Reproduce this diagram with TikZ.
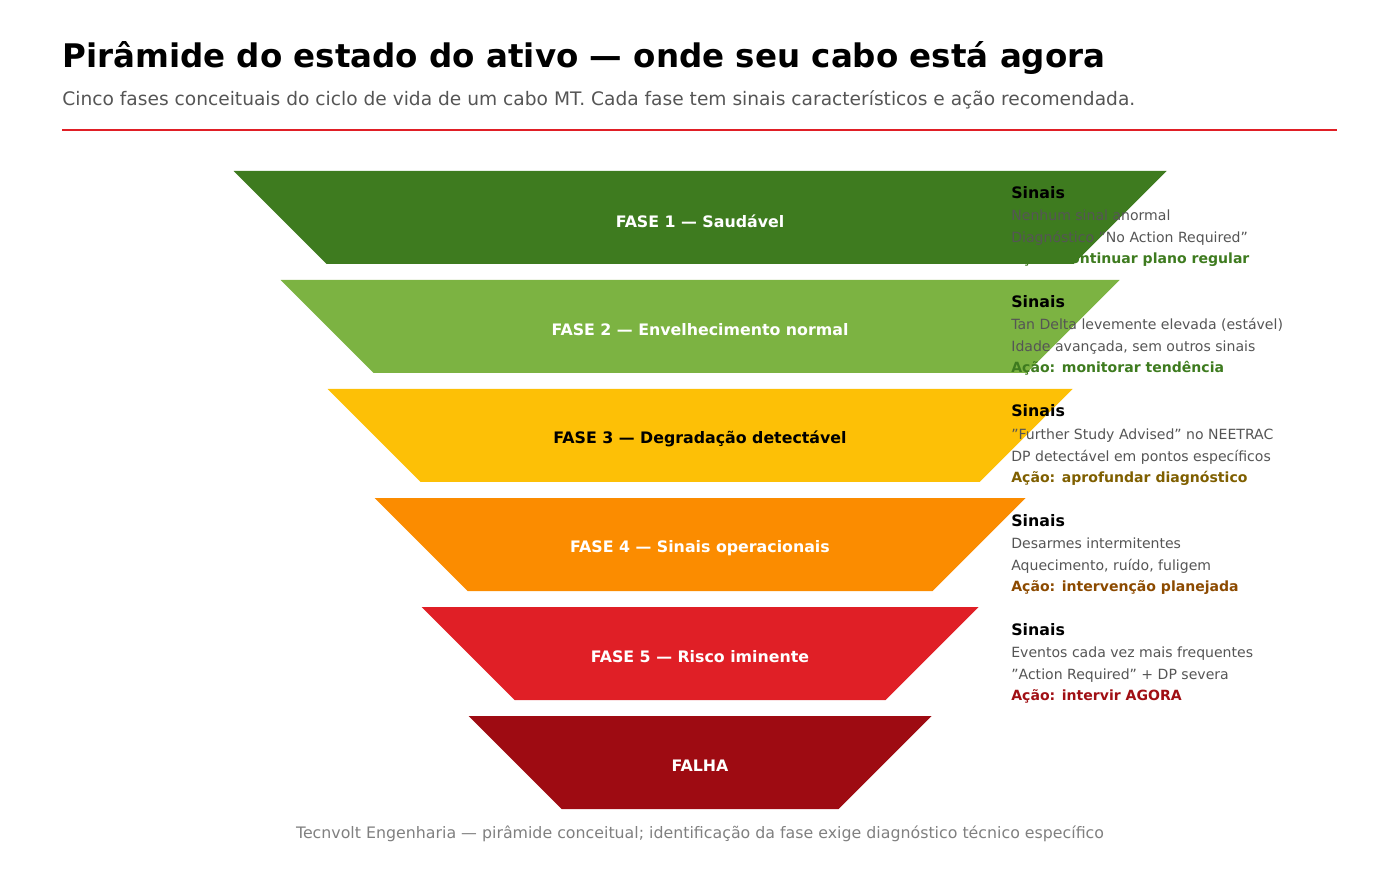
\documentclass[tikz,border=0pt]{standalone}
\usepackage{fontspec}
\setmainfont{DejaVu Sans}
\usetikzlibrary{positioning}
\definecolor{fase1}{HTML}{3E7B1F}
\definecolor{fase2}{HTML}{7CB342}
\definecolor{fase3}{HTML}{FDC006}
\definecolor{fase4}{HTML}{FB8C00}
\definecolor{fase5}{HTML}{E01F26}
\definecolor{falha}{HTML}{9E0B12}
\definecolor{acao3}{HTML}{7F5F00}
\definecolor{acao4}{HTML}{8C4A00}
\definecolor{acao5}{HTML}{A00F14}
\definecolor{texto}{HTML}{555555}
\begin{document}
\begin{tikzpicture}[x=0.02cm,y=-0.02cm,
  fase/.style={font=\fontsize{9}{11}\selectfont\bfseries},
  sinal/.style={anchor=base west,inner sep=0pt,font=\fontsize{8}{10}\selectfont,text=texto},
  titulo/.style={anchor=base west,inner sep=0pt}]
\useasboundingbox (0,0) rectangle (1400,871);
% titulo
\node[titulo,font=\fontsize{18.5}{22}\selectfont\bfseries] (tit) at (62,68) {Pirâmide do estado do ativo — onde seu cabo está agora};
\node[titulo,font=\fontsize{10.6}{13}\selectfont,text=texto] (sub) at (62,106) {Cinco fases conceituais do ciclo de vida de um cabo MT. Cada fase tem sinais característicos e ação recomendada.};
\draw[fase5,line width=1.2pt] (62,130) -- (1337,130);
% piramide
\foreach \i/\cor/\rot/\tc in {0/fase1/FASE 1 — Saudável/white,1/fase2/FASE 2 — Envelhecimento normal/white,
  2/fase3/FASE 3 — Degradação detectável/black,3/fase4/FASE 4 — Sinais operacionais/white,
  4/fase5/FASE 5 — Risco iminente/white,5/falha/FALHA/white}{
  \pgfmathsetmacro{\t}{171+109*\i}
  \pgfmathsetmacro{\w}{466.5-47*\i}
  \fill[\cor] (700-\w,\t) -- (700+\w,\t) -- (700+\w-93,\t+93) -- (700-\w+93,\t+93) -- cycle;
  \node[fase,text=\tc] (f\i) at (700,\t+50) {\rot};
}
% sinais
\foreach \i/\a/\b/\c/\cc in {0/Nenhum sinal anormal/Diagnóstico "No Action Required"/Ação: continuar plano regular/fase1,
  1/Tan Delta levemente elevada (estável)/{Idade avançada, sem outros sinais}/Ação: monitorar tendência/fase1,
  2/"Further Study Advised" no NEETRAC/DP detectável em pontos específicos/Ação: aprofundar diagnóstico/acao3,
  3/Desarmes intermitentes/{Aquecimento, ruído, fuligem}/Ação: intervenção planejada/acao4,
  4/Eventos cada vez mais frequentes/"Action Required" + DP severa/Ação: intervir AGORA/acao5}{
  \pgfmathsetmacro{\t}{171+109*\i}
  \node[sinal,text=black,font=\fontsize{9}{11}\selectfont\bfseries] (s\i) at (1011,\t+28) {Sinais};
  \node[sinal] (sa\i) at (1011,\t+50) {\a};
  \node[sinal] (sb\i) at (1011,\t+72) {\b};
  \node[sinal,text=\cc,font=\fontsize{8}{10}\selectfont\bfseries] (sc\i) at (1011,\t+93) {\c};
}
\node[font=\fontsize{9}{11}\selectfont,text=gray] (rod) at (700,834) {Tecnvolt Engenharia — pirâmide conceitual; identificação da fase exige diagnóstico técnico específico};
\end{tikzpicture}
\end{document}
